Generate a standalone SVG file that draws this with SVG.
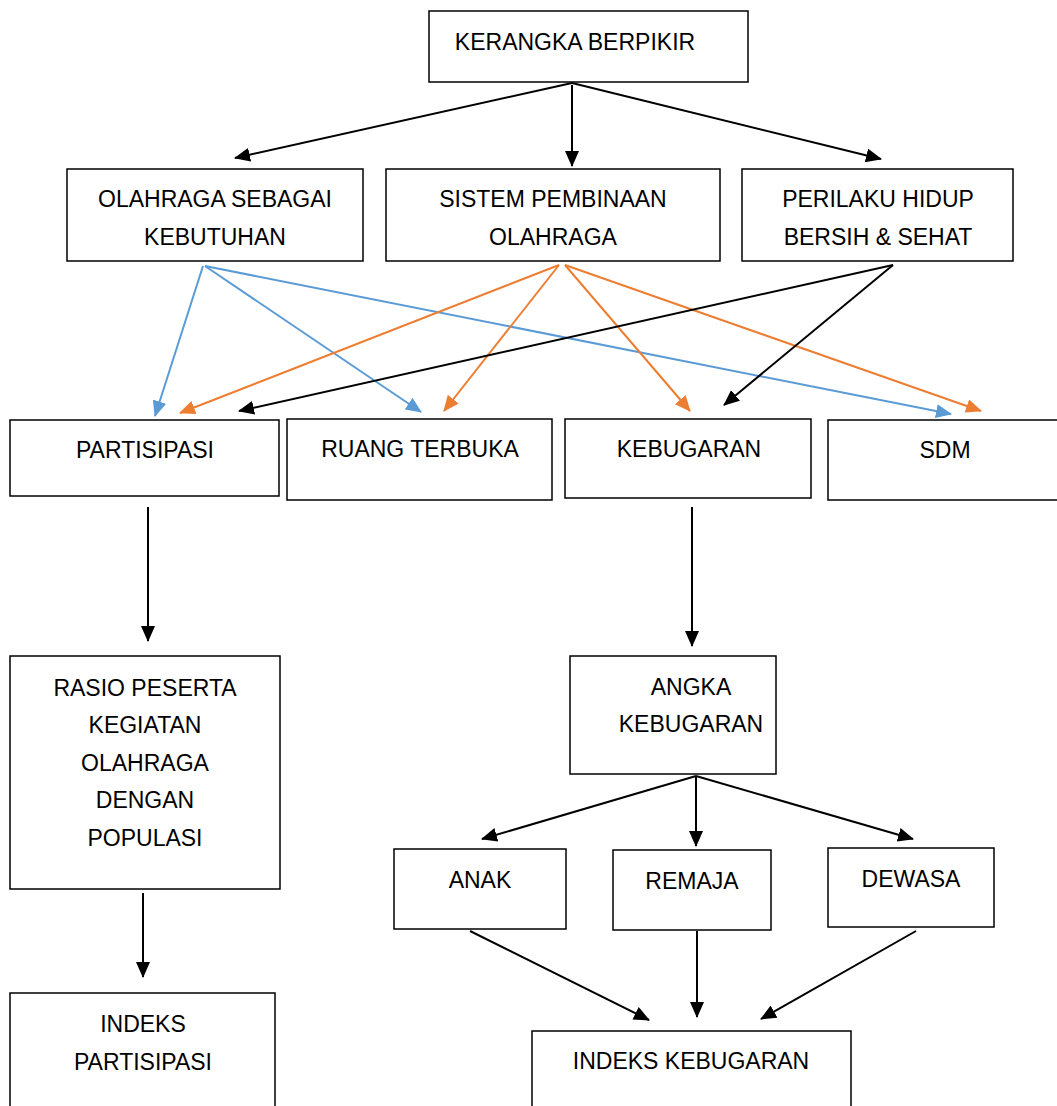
<svg xmlns="http://www.w3.org/2000/svg" width="1057" height="1106" viewBox="0 0 1057 1106">
<style>
.box{fill:#fff;stroke:#000;stroke-width:1.5}
.t{font-family:"Liberation Sans",Arial,sans-serif;font-size:23px;fill:#000;text-anchor:middle}
.k{stroke:#000;stroke-width:2;fill:none}
.b{stroke:#5B9BD5;stroke-width:2;fill:none}
.o{stroke:#ED7D31;stroke-width:2;fill:none}
</style>
<defs>
<marker id="ak" markerUnits="userSpaceOnUse" markerWidth="16" markerHeight="14" refX="15" refY="7" orient="auto"><path d="M0,0 L16,7 L0,14 z" fill="#000"/></marker>
<marker id="ab" markerUnits="userSpaceOnUse" markerWidth="16" markerHeight="14" refX="15" refY="7" orient="auto"><path d="M0,0 L16,7 L0,14 z" fill="#5B9BD5"/></marker>
<marker id="ao" markerUnits="userSpaceOnUse" markerWidth="16" markerHeight="14" refX="15" refY="7" orient="auto"><path d="M0,0 L16,7 L0,14 z" fill="#ED7D31"/></marker>
</defs>
<rect width="1057" height="1106" fill="#fff"/>
<g id="n-kerangka"><rect class="box" x="429" y="11" width="319" height="71"/><text class="t" x="575" y="50">KERANGKA BERPIKIR</text></g>
<g id="n-olahraga"><rect class="box" x="67" y="169" width="296" height="92"/><text class="t" x="215" y="207">OLAHRAGA SEBAGAI</text><text class="t" x="215" y="245">KEBUTUHAN</text></g>
<g id="n-sistem"><rect class="box" x="386" y="169" width="334" height="92"/><text class="t" x="553" y="207">SISTEM PEMBINAAN</text><text class="t" x="553" y="245">OLAHRAGA</text></g>
<g id="n-perilaku"><rect class="box" x="742" y="169" width="271" height="92"/><text class="t" x="878" y="207">PERILAKU HIDUP</text><text class="t" x="878" y="245">BERSIH &amp; SEHAT</text></g>
<g id="n-partisipasi"><rect class="box" x="10" y="420" width="269" height="76"/><text class="t" x="145" y="458">PARTISIPASI</text></g>
<g id="n-ruang"><rect class="box" x="287" y="419" width="265" height="81"/><text class="t" x="420" y="457">RUANG TERBUKA</text></g>
<g id="n-kebugaran"><rect class="box" x="565" y="419" width="246" height="79"/><text class="t" x="689" y="457">KEBUGARAN</text></g>
<g id="n-sdm"><rect class="box" x="828" y="420" width="240" height="80"/><text class="t" x="945" y="458">SDM</text></g>
<g id="n-rasio"><rect class="box" x="10" y="656" width="270" height="233"/><text class="t" x="145" y="696">RASIO PESERTA</text><text class="t" x="145" y="733">KEGIATAN</text><text class="t" x="145" y="771">OLAHRAGA</text><text class="t" x="145" y="808">DENGAN</text><text class="t" x="145" y="846">POPULASI</text></g>
<g id="n-indeks-partisipasi"><rect class="box" x="10" y="993" width="265" height="125"/><text class="t" x="143" y="1032">INDEKS</text><text class="t" x="143" y="1070">PARTISIPASI</text></g>
<g id="n-angka"><rect class="box" x="570" y="656" width="206" height="118"/><text class="t" x="691" y="695">ANGKA</text><text class="t" x="691" y="732">KEBUGARAN</text></g>
<g id="n-anak"><rect class="box" x="394" y="849" width="172" height="80"/><text class="t" x="480" y="888">ANAK</text></g>
<g id="n-remaja"><rect class="box" x="613" y="850" width="158" height="80"/><text class="t" x="692" y="889">REMAJA</text></g>
<g id="n-dewasa"><rect class="box" x="828" y="848" width="166" height="79"/><text class="t" x="911" y="887">DEWASA</text></g>
<g id="n-indeks-kebugaran"><rect class="box" x="532" y="1031" width="319" height="90"/><text class="t" x="691" y="1069">INDEKS KEBUGARAN</text></g>
<g id="connectors">
<line class="k" x1="572" y1="83" x2="235" y2="158" marker-end="url(#ak)"/>
<line class="k" x1="572" y1="85" x2="572" y2="166" marker-end="url(#ak)"/>
<line class="k" x1="572" y1="83" x2="881" y2="159" marker-end="url(#ak)"/>
<line class="b" x1="203" y1="266" x2="155" y2="416" marker-end="url(#ab)"/>
<line class="b" x1="205" y1="266" x2="421" y2="412" marker-end="url(#ab)"/>
<line class="b" x1="205" y1="266" x2="951" y2="414" marker-end="url(#ab)"/>
<line class="o" x1="559" y1="265" x2="180" y2="413" marker-end="url(#ao)"/>
<line class="o" x1="559" y1="265" x2="444" y2="411" marker-end="url(#ao)"/>
<line class="o" x1="565" y1="265" x2="690" y2="411" marker-end="url(#ao)"/>
<line class="o" x1="565" y1="265" x2="981" y2="411" marker-end="url(#ao)"/>
<line class="k" x1="893" y1="265" x2="239" y2="411" marker-end="url(#ak)"/>
<line class="k" x1="893" y1="265" x2="724" y2="405" marker-end="url(#ak)"/>
<line class="k" x1="148" y1="507" x2="148" y2="641" marker-end="url(#ak)"/>
<line class="k" x1="692" y1="507" x2="692" y2="646" marker-end="url(#ak)"/>
<line class="k" x1="143" y1="893" x2="143" y2="977" marker-end="url(#ak)"/>
<line class="k" x1="696" y1="776" x2="482" y2="839" marker-end="url(#ak)"/>
<line class="k" x1="696" y1="776" x2="696" y2="846" marker-end="url(#ak)"/>
<line class="k" x1="696" y1="776" x2="913" y2="839" marker-end="url(#ak)"/>
<line class="k" x1="470" y1="931" x2="649" y2="1020" marker-end="url(#ak)"/>
<line class="k" x1="697" y1="931" x2="697" y2="1017" marker-end="url(#ak)"/>
<line class="k" x1="916" y1="931" x2="761" y2="1019" marker-end="url(#ak)"/>
</g>
</svg>
